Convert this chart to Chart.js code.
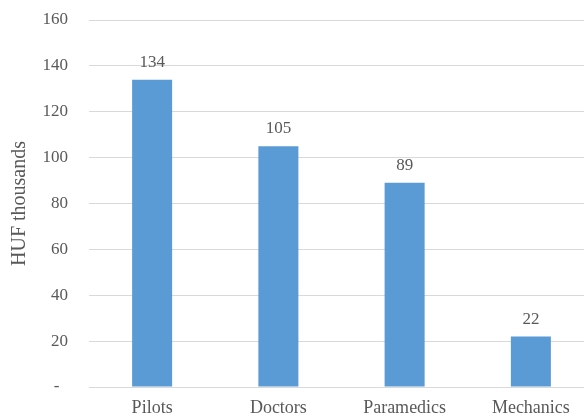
<!DOCTYPE html>
<html>
<head>
<meta charset="utf-8">
<script src="https://cdn.jsdelivr.net/npm/chart.js@4/dist/chart.umd.min.js"></script>
<style>
  html, body { margin: 0; padding: 0; background: #fff; overflow: hidden; }
  #wrap { width: 584px; height: 415px; overflow: hidden; position: relative; }
  #box { width: 594px; height: 415px; position: absolute; left: 0; top: 0; }
</style>
</head>
<body>
<div id="wrap"><div id="box"><canvas id="chart"></canvas></div></div>
<script>
// Chart data
const categories = ['Pilots', 'Doctors', 'Paramedics', 'Mechanics'];
const salaries = [134, 105, 89, 22];
const yTicks = [0, 20, 40, 60, 80, 100, 120, 140, 160];

const BAR_COLOR = '#5b9bd5';
const TEXT_COLOR = '#595959';
const GRID_COLOR = '#d9d9d9';
const FAMILY = '"Liberation Serif", "Times New Roman", serif';

// Draw value labels above each bar
const valueLabels = {
  id: 'valueLabels',
  afterDatasetsDraw(chart) {
    const ctx = chart.ctx;
    const meta = chart.getDatasetMeta(0);
    ctx.save();
    ctx.font = `17px ${FAMILY}`;
    ctx.fillStyle = TEXT_COLOR;
    ctx.textAlign = 'center';
    ctx.textBaseline = 'alphabetic';
    meta.data.forEach((bar, i) => {
      ctx.fillText(String(salaries[i]), bar.x, bar.y - 13);
    });
    ctx.restore();
  }
};

new Chart(document.getElementById('chart'), {
  type: 'bar',
  data: {
    labels: categories,
    datasets: [{
      data: salaries,
      backgroundColor: BAR_COLOR,
      categoryPercentage: 1,
      barPercentage: 0.317
    }]
  },
  options: {
    responsive: true,
    maintainAspectRatio: false,
    animation: false,
    layout: { padding: { top: 20, right: 0, left: 0, bottom: 0 } },
    plugins: {
      legend: { display: false },
      tooltip: { enabled: false }
    },
    scales: {
      x: {
        grid: { display: false },
        border: { color: GRID_COLOR, width: 1 },
        ticks: { color: TEXT_COLOR, font: { family: FAMILY, size: 18 }, padding: 2 },
        afterFit(scale) {
          scale.height = 28;
          scale.paddingLeft = 0;
          scale.paddingRight = 0;
        }
      },
      y: {
        min: yTicks[0],
        max: yTicks[yTicks.length - 1],
        afterBuildTicks(scale) { scale.ticks = yTicks.map(v => ({ value: v })); },
        grid: { color: GRID_COLOR, drawTicks: false },
        border: { display: false },
        ticks: {
          color: TEXT_COLOR,
          font: { family: FAMILY, size: 17 },
          padding: 21,
          callback: v => (v === 0 ? '-  ' : String(v))
        },
        title: {
          display: true,
          text: 'HUF thousands',
          color: TEXT_COLOR,
          font: { family: FAMILY, size: 20 },
          padding: { top: 8, bottom: 0 }
        },
        afterFit(scale) {
          scale.width = 89;
          scale.paddingTop = 0;
          scale.paddingBottom = 0;
        }
      }
    }
  },
  plugins: [valueLabels]
});
</script>
</body>
</html>
